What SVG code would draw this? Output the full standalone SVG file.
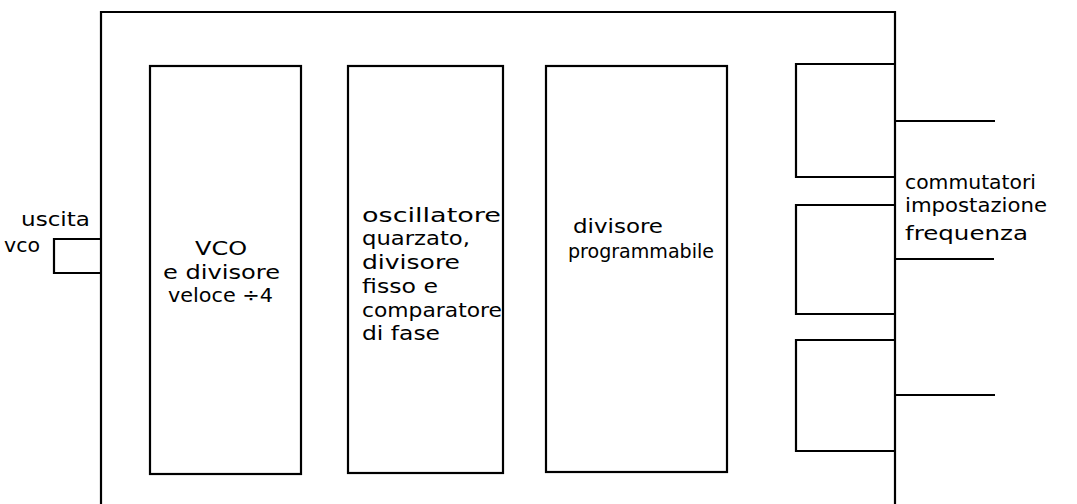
<svg xmlns="http://www.w3.org/2000/svg" width="1077" height="504" viewBox="0 0 1077 504">
<style>
.b{fill:none;stroke:#000;stroke-width:2.2}
.l{stroke:#000;stroke-width:2.2;fill:none}
text{font-family:"DejaVu Sans","Liberation Sans",sans-serif;fill:#000;font-size:20px}
</style>
<rect width="1077" height="504" fill="#fff"/>
<g id="outer"><path class="b" d="M101,504 V12 H895 V504"/></g>
<g id="vco">
<rect class="b" x="150" y="66" width="151" height="408"/>
<text x="195" y="255" font-size="26" textLength="52" lengthAdjust="spacingAndGlyphs">VCO</text>
<text x="163" y="279" textLength="117" lengthAdjust="spacingAndGlyphs">e divisore</text>
<text x="168" y="302" textLength="105" lengthAdjust="spacingAndGlyphs">veloce ÷4</text>
</g>
<g id="osc">
<rect class="b" x="348" y="66" width="155" height="407"/>
<text x="362" y="222" textLength="139" lengthAdjust="spacingAndGlyphs">oscillatore</text>
<text x="362" y="245" textLength="108" lengthAdjust="spacingAndGlyphs">quarzato,</text>
<text x="362" y="269" textLength="98" lengthAdjust="spacingAndGlyphs">divisore</text>
<text x="362" y="293" textLength="76" lengthAdjust="spacingAndGlyphs">fisso e</text>
<text x="362" y="317" textLength="140" lengthAdjust="spacingAndGlyphs">comparatore</text>
<text x="362" y="340" textLength="78" lengthAdjust="spacingAndGlyphs">di fase</text>
</g>
<g id="divprog">
<rect class="b" x="546" y="66" width="181" height="406"/>
<text x="573" y="233" textLength="90" lengthAdjust="spacingAndGlyphs">divisore</text>
<text x="568" y="258" textLength="146" lengthAdjust="spacingAndGlyphs">programmabile</text>
</g>
<g id="sw1"><path class="b" d="M895,64 H796 V177 H895"/></g>
<g id="sw2"><path class="b" d="M895,205 H796 V314 H895"/></g>
<g id="sw3"><path class="b" d="M895,340 H796 V451 H895"/></g>
<g id="out"><path class="b" d="M101,239 H54 V273 H101"/>
<text x="21" y="226" textLength="69" lengthAdjust="spacingAndGlyphs">uscita</text>
<text x="4" y="252" textLength="36" lengthAdjust="spacingAndGlyphs">vco</text>
</g>
<g id="connectors">
<line class="l" x1="895" y1="121" x2="995" y2="121"/>
<line class="l" x1="895" y1="259" x2="994" y2="259"/>
<line class="l" x1="895" y1="395" x2="995" y2="395"/>
</g>
<g id="label">
<text x="905" y="189" textLength="131" lengthAdjust="spacingAndGlyphs">commutatori</text>
<text x="905" y="212" textLength="142" lengthAdjust="spacingAndGlyphs">impostazione</text>
<text x="905" y="240" font-size="22" textLength="123" lengthAdjust="spacingAndGlyphs">frequenza</text>
</g>
</svg>
